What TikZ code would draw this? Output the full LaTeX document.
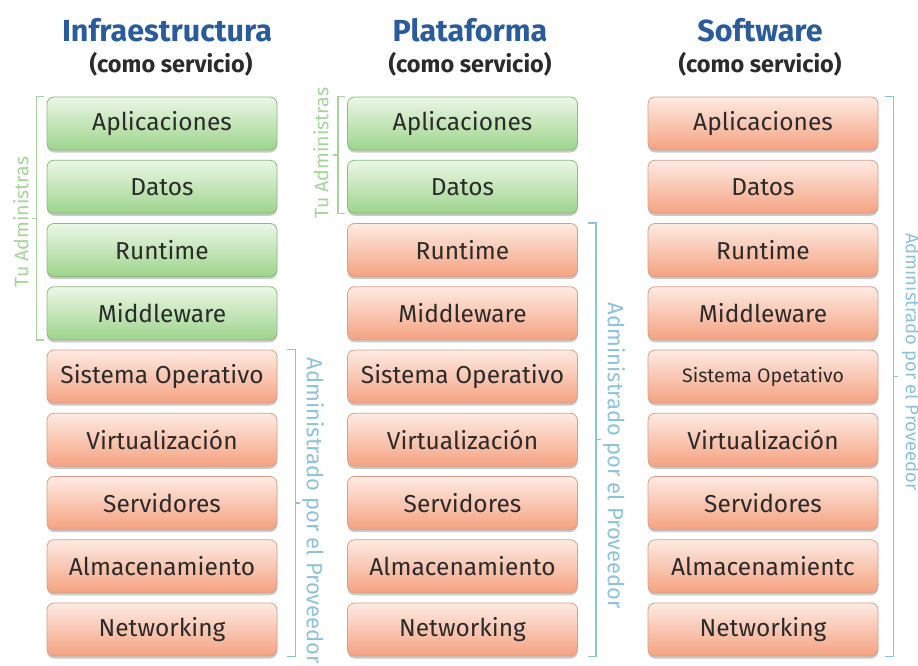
\documentclass[tikz,border=0pt]{standalone}
\usepackage{fontspec}
\setmainfont{Fira Sans}
\usetikzlibrary{shadows,calc}
\definecolor{gtop}{HTML}{ECF7E6}
\definecolor{gbot}{HTML}{9DD48C}
\definecolor{gline}{HTML}{8CBB80}
\definecolor{otop}{HTML}{FDEBE3}
\definecolor{obot}{HTML}{F5A281}
\definecolor{oline}{HTML}{D6A08A}
\definecolor{txt}{HTML}{2B2B2B}
\definecolor{gbrc}{HTML}{A6D49A}
\definecolor{bbrc}{HTML}{8CC3DA}
\definecolor{ttl}{HTML}{2A5C9C}
\tikzset{
  box/.style={rounded corners=7pt, minimum width=230pt, minimum height=53pt, inner sep=0pt,
    line width=0.8pt, text=txt, font=\fontsize{24.5}{26}\selectfont,
    drop shadow={shadow xshift=0pt, shadow yshift=-2.5pt, opacity=0.35, fill=black!60}},
  gbox/.style={box, draw=gline, top color=gtop, bottom color=gbot},
  obox/.style={box, draw=oline, top color=otop, bottom color=obot},
  gbr/.style={draw=gbrc, line width=1.4pt},
  bbr/.style={draw=bbrc, line width=1.4pt},
  gtxt/.style={text=gbrc, font=\fontsize{19.5}{21}\selectfont, inner sep=0pt},
  btxt/.style={text=bbrc, font=\fontsize{22}{24}\selectfont, inner sep=0pt},
  title/.style={text=ttl, font=\bfseries\fontsize{30.5}{33}\selectfont, inner sep=0pt},
  subtitle/.style={text=txt, font=\bfseries\fontsize{23.5}{26}\selectfont, inner sep=0pt}
}
\begin{document}
\begin{tikzpicture}[x=1pt,y=-1pt]
\useasboundingbox[fill=white] (0,0) rectangle (918,666);
% titles
\node[title] (t1) at (167,30) {Infraestructura};
\node[subtitle] (s1) at (171,64) {(como servicio)};
\node[title] (t2) at (470,30) {Plataforma};
\node[subtitle] (s2) at (470,64) {(como servicio)};
\node[title] (t3) at (760,30) {Software};
\node[subtitle] (s3) at (760,64) {(como servicio)};
% column 1
\foreach \t/\s [count=\i] in {Aplicaciones/gbox,Datos/gbox,Runtime/gbox,Middleware/gbox,Sistema Operativo/obox,Virtualización/obox,Servidores/obox,Almacenamiento/obox,Networking/obox}
  \node[\s] (a\i) at (162,{123.5+63.25*(\i-1)}) {\t};
% column 2
\foreach \t/\s [count=\i] in {Aplicaciones/gbox,Datos/gbox,Runtime/obox,Middleware/obox,Sistema Operativo/obox,Virtualización/obox,Servidores/obox,Almacenamiento/obox,Networking/obox}
  \node[\s] (b\i) at (462.5,{123.5+63.25*(\i-1)}) {\t};
% column 3
\foreach \t [count=\i] in {Aplicaciones,Datos,Runtime,Middleware,{\fontsize{19.5}{21}\selectfont Sistema Opetativo},Virtualización,Servidores,Almacenamientc,Networking}
  \node[obox] (c\i) at (763,{123.5+63.25*(\i-1)}) {\t};
% brackets column 1
\coordinate (a1l) at ([xshift=-10pt]a1.north west);
\coordinate (a4l) at ([xshift=-10pt]a4.south west);
\coordinate (a1m) at ($(a1l)!0.5!(a4l)$);
\draw[gbr] ([xshift=-3pt]a1.north west) -- (a1l) -- (a4l) -- ([xshift=-3pt]a4.south west);
\draw[gbr] (a1m) -- ++(-5,0) coordinate (a1mt);
\node[gtxt, rotate=90] (la1) at (21,222) {Tu Administras};
\coordinate (a5r) at ([xshift=18pt]a5.north east);
\coordinate (a9r) at ([xshift=18pt]a9.south east);
\coordinate (a5m) at ($(a5r)!0.5!(a9r)$);
\draw[bbr] ([xshift=10pt]a5.north east) -- (a5r) -- (a9r) -- ([xshift=10pt]a9.south east);
\draw[bbr] (a5m) -- ++(5,0) coordinate (a5mt);
\node[btxt, rotate=-90] (la2) at (313,511) {Administrado por el Proveedor};
% brackets column 2
\coordinate (b1l) at ([xshift=-9pt]b1.north west);
\coordinate (b2l) at ([xshift=-9pt]b2.south west);
\coordinate (b1m) at ($(b1l)!0.5!(b2l)$);
\draw[gbr] ([xshift=-2pt]b1.north west) -- (b1l) -- (b2l) -- ([xshift=-2pt]b2.south west);
\draw[gbr] (b1m) -- ++(-5,0) coordinate (b1mt);
\node[gtxt, rotate=90] (lb1) at (321,153) {Tu Administras};
\coordinate (b3r) at ([xshift=18pt]b3.north east);
\coordinate (b9r) at ([xshift=18pt]b9.south east);
\coordinate (b3m) at ($(b3r)!0.5!(b9r)$);
\draw[bbr] ([xshift=10pt]b3.north east) -- (b3r) -- (b9r) -- ([xshift=10pt]b9.south east);
\draw[bbr] (b3m) -- ++(5,0) coordinate (b3mt);
\node[btxt, rotate=-90] (lb2) at (614,456) {Administrado por el Proveedor};
% bracket column 3
\coordinate (c1r) at ([xshift=15pt]c1.north east);
\coordinate (c9r) at ([xshift=15pt]c9.south east);
\coordinate (c1m) at ($(c1r)!0.5!(c9r)$);
\draw[bbr] ([xshift=7pt]c1.north east) -- (c1r) -- (c9r) -- ([xshift=7pt]c9.south east);
\draw[bbr] (c1m) -- ++(5,0) coordinate (c1mt);
\node[btxt, rotate=-90, font=\fontsize{18.5}{20}\selectfont] (lc1) at (911,362) {Administrado por el Proveedor};
\end{tikzpicture}
\end{document}
